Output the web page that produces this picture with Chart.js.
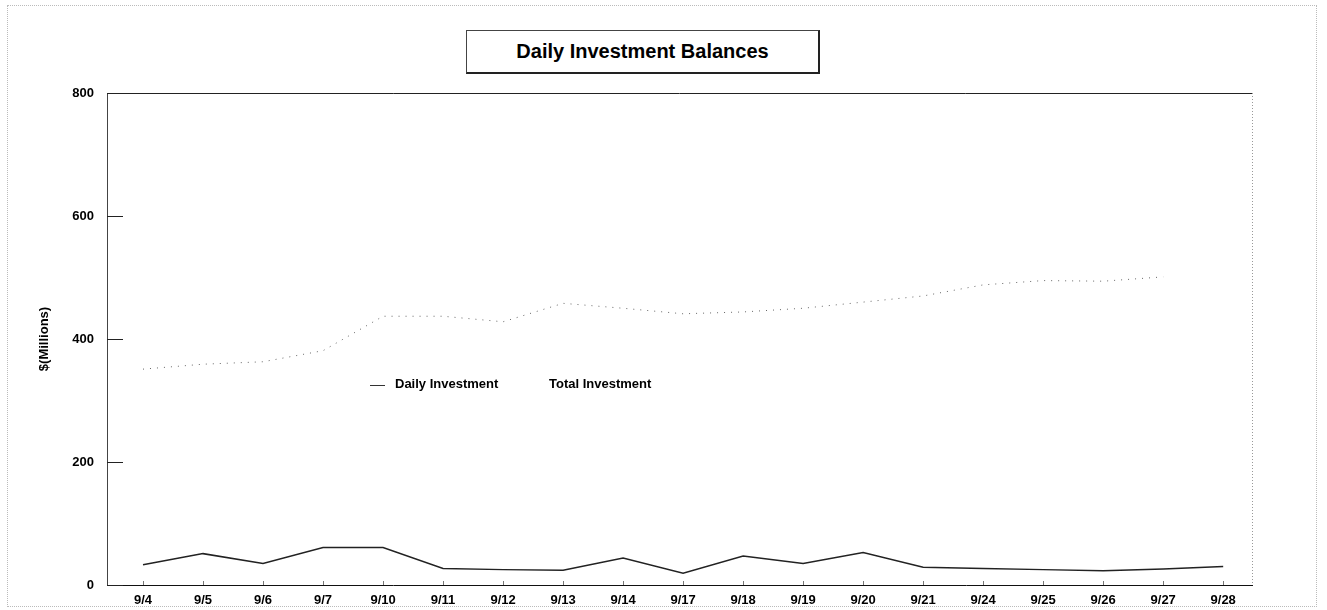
<!DOCTYPE html>
<html>
<head>
<meta charset="utf-8">
<script src="https://cdn.jsdelivr.net/npm/chart.js@4.4.1/dist/chart.umd.min.js"></script>
<style>
  html, body { margin: 0; padding: 0; background: #fff; }
  #wrap { position: relative; width: 1327px; height: 610px; overflow: hidden; }
  #c { position: absolute; left: 0; top: 0; }
  #page { position: absolute; left: 7px; top: 5px; width: 1310px; height: 602px; border: 1px dotted #bbb; box-sizing: border-box; pointer-events: none; }
  #title { position: absolute; left: 466px; top: 30px; width: 351px; height: 41px;
    border: 1px solid #444; border-right: 2px solid #222; border-bottom: 2px solid #222;
    font: bold 20px "Liberation Sans", Arial, sans-serif; line-height: 41px; text-align: center; color: #000; background: #fff; }
  .lg { position: absolute; top: 376px; font: bold 13px "Liberation Sans", Arial, sans-serif; color: #000; line-height: 16px; white-space: nowrap; }
  #lgline { position: absolute; left: 370px; top: 385px; width: 15px; height: 0; border-top: 1px solid #333; }
</style>
</head>
<body>
<div id="wrap">
  <canvas id="c" width="1327" height="610"></canvas>
  <div id="page"></div>
  <div id="title">Daily Investment Balances</div>
  <div id="lgline"></div>
  <div class="lg" style="left:395px">Daily Investment</div>
  <div class="lg" style="left:549px">Total Investment</div>
</div>
<script>
// ---- data ----
const categories = ['9/4','9/5','9/6','9/7','9/10','9/11','9/12','9/13','9/14','9/17','9/18','9/19','9/20','9/21','9/24','9/25','9/26','9/27','9/28'];
const dailyInvestment = [33, 51, 35, 61, 61, 27, 25, 24, 44, 19, 47, 35, 53, 29, 27, 25, 23, 26, 30];
const totalInvestment = [351, 359, 363, 381, 437, 437, 428, 458, 450, 441, 444, 450, 460, 470, 488, 495, 494, 501, null];
const yTicks = [0, 200, 400, 600, 800];

const FONT = '"Liberation Sans", Arial, sans-serif';

const framePlugin = {
  id: 'frame',
  afterDraw(chart) {
    const { ctx, chartArea: a, scales: { x, y } } = chart;
    ctx.save();
    ctx.strokeStyle = '#222';
    ctx.lineWidth = 1;
    ctx.beginPath();
    ctx.moveTo(a.left, a.top + 0.5);
    ctx.lineTo(a.right, a.top + 0.5);
    ctx.stroke();
    y.ticks.forEach(t => {
      const py = Math.round(y.getPixelForValue(t.value)) + 0.5;
      ctx.beginPath();
      ctx.moveTo(a.left, py);
      ctx.lineTo(a.left + 16, py);
      ctx.stroke();
    });
    ctx.strokeStyle = '#777';
    x.ticks.forEach(t => {
      const px = Math.round(x.getPixelForValue(t.value)) + 0.5;
      ctx.beginPath();
      ctx.moveTo(px, a.bottom);
      ctx.lineTo(px, a.bottom - 4);
      ctx.stroke();
    });
    ctx.setLineDash([1, 2]);
    ctx.strokeStyle = '#999';
    ctx.beginPath();
    ctx.moveTo(a.right + 0.5, a.top);
    ctx.lineTo(a.right + 0.5, a.bottom);
    ctx.stroke();
    ctx.restore();
  }
};

new Chart(document.getElementById('c'), {
  type: 'line',
  data: {
    datasets: [
      {
        label: 'Daily Investment',
        data: dailyInvestment.map((v, i) => ({ x: i, y: v })),
        borderColor: '#222',
        borderWidth: 1.5,
        pointRadius: 0,
        tension: 0,
        fill: false
      },
      {
        label: 'Total Investment',
        data: totalInvestment.map((v, i) => ({ x: i, y: v })),
        borderColor: '#666',
        borderWidth: 1,
        borderDash: [1, 6],
        pointRadius: 0,
        tension: 0,
        fill: false,
        spanGaps: false
      }
    ]
  },
  options: {
    responsive: false,
    animation: false,
    layout: { padding: { left: 0, right: 75, top: 93, bottom: 0 } },
    plugins: { legend: { display: false }, tooltip: { enabled: false }, title: { display: false } },
    scales: {
      x: {
        type: 'linear',
        min: -0.6,
        max: 18.48,
        afterBuildTicks: axis => { axis.ticks = categories.map((_, i) => ({ value: i })); },
        afterFit: axis => { axis.height = 25; },
        grid: { display: false, drawTicks: false },
        border: { display: true, color: '#111', width: 1 },
        ticks: {
          autoSkip: false,
          maxRotation: 0,
          padding: 8,
          color: '#000',
          font: { family: FONT, size: 13, weight: 'bold' },
          callback: v => categories[v]
        }
      },
      y: {
        min: 0,
        max: 800,
        afterBuildTicks: axis => { axis.ticks = yTicks.map(v => ({ value: v })); },
        afterFit: axis => { axis.width = 107; },
        grid: { display: false, drawTicks: false },
        border: { display: true, color: '#444', width: 1 },
        ticks: {
          padding: 13,
          color: '#000',
          font: { family: FONT, size: 13, weight: 'bold' }
        },
        title: {
          display: true,
          text: '$(Millions)',
          color: '#000',
          font: { family: FONT, size: 13, weight: 'bold' },
          padding: { top: 37, bottom: 0 }
        }
      }
    }
  },
  plugins: [framePlugin]
});
</script>
</body>
</html>
